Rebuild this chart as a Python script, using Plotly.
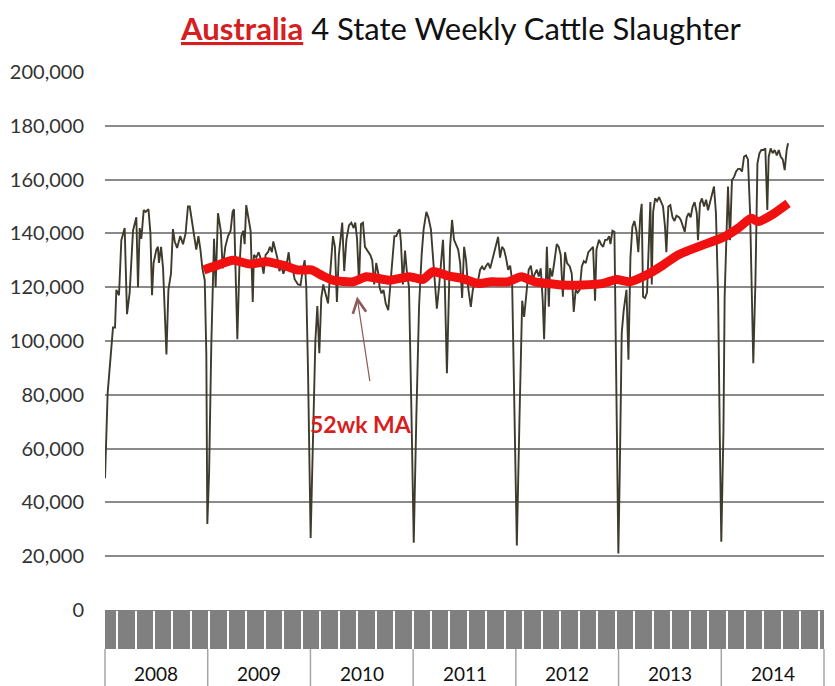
import plotly.graph_objects as go
import numpy as np

# ---- data ----
years = ["2008", "2009", "2010", "2011", "2012", "2013", "2014"]
weeks_per_year = 52

slaughter_weeks = [
    0, 1.35, 4.05, 5.07, 5.74, 7.09, 8.27, 9.96, 11.14, 12.49, 14.18, 15.87, 16.71, 17.56, 18.4, 19.6, 20.6,
    22, 23, 23.8, 24.6, 26, 26.8, 27.3, 28.4, 29.4, 31.1, 32.1, 33.4, 34.4, 35.3, 36.5, 38.1, 39.5, 40.8,
    42, 42.9, 44.6, 46.2, 47.3, 48.3, 49.3, 50.5, 51.3, 51.8, 52.7, 53.8, 55.2, 56, 57.2,
    58.6, 59.6, 60.9, 62.3, 63.6, 64.6, 65.3, 66, 67, 68, 69, 70, 70.7, 71.5, 72.7, 73.7, 74.8, 75.4,
    76.6, 77.8, 79.1, 80.3, 81.3, 82.5, 83.5, 84.5, 85.2, 86.2, 87.2, 88.3, 89.3, 90.3, 91.8, 93, 94,
    95, 96, 97.7, 99, 100.2, 101.1, 101.9, 102.8, 104.1, 105.3, 106.5, 107.5, 108.5, 109.5, 110.5,
    111.5, 112.9, 114.2, 115.4,
    116.4, 117.4, 118.4, 120.1, 121.1, 122.2, 123.5, 124.7, 125.9, 126.7, 127.6, 128.6, 129.6, 130.6,
    131.6, 133, 134.3, 135.3, 136.3, 137.3, 138.4, 139, 140, 141, 142.1, 143.4, 144.4, 145.4, 146.5,
    147.5, 148.5, 149.2, 149.8, 150.8, 151.9, 152.9, 153.9, 155.1, 156.3, 157.6, 159, 160.3, 161.3,
    162.7, 163.7, 165, 166, 167, 168, 169.1, 170.1, 171.1, 172, 173.1,
    174.7, 175.7, 176.7, 177.7, 178.8, 179.8, 180.8, 181.8, 182.8, 183.8, 185.2, 186.2, 187.5, 188.9,
    189.9, 190.9, 191.9, 193, 194, 195, 196, 197, 198, 199, 200, 201, 202, 203, 204.1, 205.1, 206.1,
    207.1, 208.5, 209.8, 211.2, 212.2, 213.5, 214.5, 215.6, 216.6, 217.6, 218.6, 219.6, 220.6, 221.6,
    222.3, 223.7, 224.7, 225.3, 226.4, 227.4, 228.7, 229.7, 230.7, 231.8,
    232.9, 233.9, 235.3, 236.3, 237.3, 238.3, 239.3, 240.3, 241.4, 242.4, 243.4, 244.7, 246.1, 247.1,
    248.1, 248.8, 250.1, 251.1, 252.2, 253.2, 254.2, 255.2, 255.9, 256.9, 257.9, 258.6, 259.4, 259.9,
    260.6, 261.6, 262.6, 264, 265, 266, 267, 268, 269, 270, 271, 271.7, 272.4, 273.4, 274.4, 275.4,
    276.1, 276.8, 277.5, 278.5, 279.5, 280.5, 281.5, 282.5, 283.5, 284.2, 285.2, 286.2, 287.3, 288.3,
    289.3, 290.6,
    291.5, 292.5, 293.5, 294.5, 295.5, 296.5, 297.5, 298.5, 299.6, 300.2, 301.2, 302.2, 303.3, 304.3,
    305.3, 306.3, 307.3, 308.3, 309.3, 310.4, 311.2, 312, 313.1, 313.7, 314.7, 315.4, 316.4, 317.4,
    318.5, 319.5, 320.5, 321.5, 322.5, 323.5, 324.5, 325.5, 326.6, 327.6, 328.2, 329.3, 330.3, 331.3,
    332.3, 333.3, 334.3, 335.3, 336, 337, 338, 339, 340.1, 341.1, 342.1, 343.1, 344.1, 345.1, 345.8,
]
slaughter_values = [
    49000, 80700, 105000, 105000, 119000, 117000, 137500, 142000, 110000, 118000, 141000, 146000, 120000,
    142000, 138000, 148700, 148000, 149000, 140000, 117000, 129000, 134000, 135000, 129000, 135000, 127000,
    95000, 119000, 125000, 141600, 137000, 134600, 139000, 136000, 140000, 150000, 150000, 142000, 134000,
    139000, 134000, 127000, 122600, 95000, 32000, 51000, 98000, 138000, 120000, 147500,
    141000, 127000, 135000, 139000, 141000, 148000, 149000, 129000, 100700, 127000, 139000, 141000, 136000,
    150500, 146000, 141000, 114500, 132000, 131000, 133000, 130000, 125000, 132000, 133000, 135000, 133000,
    137000, 134000, 131000, 126000, 128000, 125000, 128000, 133000, 126000, 127000, 123000, 121000, 120800,
    127000, 130000, 120000, 88000, 26800, 63000, 100000, 113000, 95500, 116000, 121000, 118000, 114000,
    127000, 139000,
    135000, 114500, 132000, 144000, 126000, 137600, 143000, 144000, 142000, 144000, 138000, 121500, 143500,
    144000, 135000, 133600, 132000, 130000, 121000, 129000, 125000, 120000, 117700, 119000, 114000, 111500,
    121000, 132000, 139000, 139000, 141000, 141500, 137000, 121000, 133600, 125000, 120000, 75000, 25000,
    71000, 113000, 132000, 141500, 148000, 146000, 141500, 132000, 121500, 112000, 120000, 130000, 137600,
    122000, 88000,
    135000, 145000, 137600, 136000, 134000, 129000, 116000, 135000, 130000, 120000, 112700, 119000, 122600,
    122600, 126500, 127700, 126500, 128000, 129000, 127000, 130000, 133000, 135000, 138700, 131000, 135000,
    134000, 131000, 126500, 128000, 122600, 75500, 24000, 70000, 115000, 109000, 120000, 126500, 128000,
    123000, 125000, 126500, 124000, 127000, 115000, 100700, 135000, 112700, 127000, 124000, 129000, 136000,
    135000, 132000, 116500,
    133000, 129000, 127700, 125000, 110800, 119000, 118000, 119000, 127700, 129700, 129000, 133000, 134000,
    135000, 115000, 134000, 137600, 136000, 135000, 137600, 137600, 139000, 136000, 141000, 140600, 100000,
    51000, 21000, 51000, 103000, 111500, 119000, 93000, 131000, 142500, 144600, 141000, 133000, 146600,
    151000, 116500, 116000, 118000, 142500, 151700, 121000, 148000, 153000, 152000, 153500, 152000, 150000,
    142500, 133000, 150000, 150500, 146000, 144600, 146600, 146000,
    145000, 142500, 140600, 146000, 147500, 146000, 150000, 151600, 147500, 137500, 151000, 153000, 150000,
    152500, 148600, 151600, 155000, 157400, 147500, 116500, 67000, 25400, 67000, 116500, 141000, 157400,
    137500, 159800, 161000, 163000, 164000, 164000, 163000, 168500, 169000, 167500, 147500, 116500, 91700,
    122600, 166000, 169800, 171000, 171000, 171600, 148700, 168500, 171600, 169800, 171000, 169000, 171000,
    168500, 167500, 163500, 171000, 173500,
]

ma_weeks = [50, 57, 64.8, 73.4, 81.9, 91, 97.7, 104.5, 109.5, 115.4, 125.5, 132.3, 144, 154.2, 161, 166,
            173.7, 180.5, 188.9, 195.6, 204, 210.8, 217.6, 224.3, 231.9, 242, 252.2, 258.9, 265.7, 274.1,
            282.5, 290.1, 300.2, 313.7, 320.5, 327.2, 330.6, 337.4, 345.8]
ma_values = [126400, 128200, 130000, 128600, 129500, 128000, 126400, 126400, 124500, 122600, 122000,
             123900, 122600, 123900, 122900, 125800, 124200, 123300, 121400, 122000, 122000, 123900,
             122000, 121400, 120800, 120800, 121400, 122900, 122000, 124500, 128200, 132000, 135000,
             138800, 141900, 145600, 144400, 146800, 151200]

y_ticks = list(range(0, 200001, 20000))

total_weeks = weeks_per_year * len(years)
FONT = "Lato"

fig = go.Figure()
fig.add_trace(go.Scatter(x=slaughter_weeks, y=slaughter_values, mode="lines",
                         line=dict(color="#3f3b2c", width=1.9), hoverinfo="skip", showlegend=False))
fig.add_trace(go.Scatter(x=ma_weeks, y=ma_values, mode="lines",
                         line=dict(color="#f01010", width=9, shape="spline", smoothing=0.6),
                         hoverinfo="skip", showlegend=False))

# category band geometry (paper units); plot height = 538 px
band_bot = -39 / 538
row_bot = -76 / 538

shapes = [
    dict(type="rect", xref="paper", yref="paper", x0=0, x1=1, y0=band_bot, y1=0,
         fillcolor="#808080", line=dict(width=0), layer="below"),
]
# year separators in the label row
for i in range(len(years) + 1):
    xp = i / len(years)
    shapes.append(dict(type="line", xref="paper", yref="paper", x0=xp, x1=xp, y0=row_bot, y1=band_bot,
                       line=dict(color="#a6a6a6", width=1.5)))

annotations = [
    dict(text="<span style='color:#d42020'><b><u>Australia</u></b></span> 4 State Weekly Cattle Slaughter",
         xref="paper", yref="paper", x=0.495, y=(610 - 28) / 538, xanchor="center", yanchor="middle",
         showarrow=False, font=dict(family=FONT, size=31, color="#111111")),
    dict(text="<b>52wk MA</b>", xref="x", yref="y", x=129.6, y=69000, showarrow=False,
         xanchor="center", yanchor="middle", font=dict(family=FONT, size=23, color="#d81e1e")),
    dict(text="", xref="x", yref="y", x=127.6, y=116500, ax=13, ay=86, showarrow=True,
         arrowhead=5, arrowsize=2.2, arrowwidth=1.2, arrowcolor="#8c5a5a"),
]
for i, yr in enumerate(years):
    annotations.append(dict(text=yr, xref="x", yref="paper", x=weeks_per_year * (i + 0.5),
                            y=(610 - 673) / 538, xanchor="center", yanchor="middle", showarrow=False,
                            font=dict(family=FONT, size=19, color="#111111")))

fig.update_layout(
    width=835, height=686,
    margin=dict(l=105, r=11, t=72, b=76),
    paper_bgcolor="white", plot_bgcolor="white",
    shapes=shapes, annotations=annotations,
    xaxis=dict(range=[0, total_weeks], showgrid=False, zeroline=False, showline=False,
               showticklabels=False, ticks="outside", ticklen=39, tickwidth=2, tickcolor="white",
               tick0=6.1, dtick=9.35, tickmode="linear"),
    yaxis=dict(range=[0, 200000], tickvals=y_ticks, tickformat=",", showgrid=True,
               gridcolor="#8a8a8a", gridwidth=2, zeroline=False, showline=False,
               ticks="", ticklabelstandoff=20,
               tickfont=dict(family=FONT, size=20, color="#333333")),
)

fig.write_html("out.html")
